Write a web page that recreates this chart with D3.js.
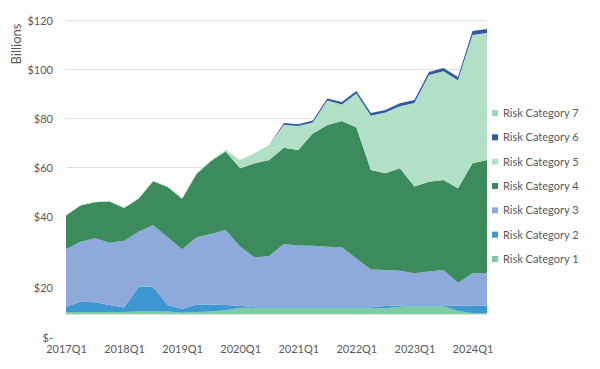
<!DOCTYPE html>
<html>
<head>
<meta charset="utf-8">
<script src="https://cdn.jsdelivr.net/npm/d3@7"></script>
<style>
  html, body { margin: 0; padding: 0; background: #fff; }
  text { font-family: Lato, "Liberation Sans", sans-serif; }
</style>
</head>
<body>
<script>
var width = 600
var height = 369

// quarters 2017Q1 .. 2024Q2
var quarters = []
for (var yr = 2017; yr <= 2024; yr++) {
    for (var q = 1; q <= 4; q++) {
        if (yr === 2024 && q > 2) break
        quarters.push(yr + 'Q' + q)
    }
}

var categories = ['Risk Category 1', 'Risk Category 2', 'Risk Category 3', 'Risk Category 4',
    'Risk Category 5', 'Risk Category 6', 'Risk Category 7']

// values in $ billions, per quarter
var cat1 = [0.8, 0.8, 0.8, 0.8, 0.8, 1.0, 1.0, 1.0, 0.5, 0.8, 1.0, 1.5, 2.6, 2.5, 2.5,
    2.5, 2.5, 2.5, 2.5, 2.5, 2.5, 2.3, 2.3, 3.0, 3.2, 3.2, 3.2, 1.2, 0.4, 0.4]
var cat2 = [2.2, 4.2, 4.0, 2.9, 1.9, 10.1, 10.1, 2.7, 1.5, 3.1, 2.9, 2.2, 0.8, 0.3, 0.3,
    0.3, 0.3, 0.3, 0.3, 0.3, 0.3, 0.5, 1.0, 0.5, 0.4, 0.4, 0.4, 2.2, 3.0, 3.1]
var cat3 = [23.4, 24.5, 26.1, 25.4, 27.2, 22.5, 25.2, 27.6, 24.4, 27.4, 28.8, 30.6, 24.1, 20.3, 20.9,
    25.8, 25.2, 25.1, 24.7, 24.4, 19.9, 15.4, 14.7, 14.2, 13.0, 13.7, 14.4, 9.4, 13.2, 13.1]
var cat4 = [13.8, 14.8, 14.7, 16.8, 13.4, 13.4, 17.9, 20.5, 20.6, 25.9, 29.8, 32.0, 32.0, 38.4, 39.2,
    39.3, 38.9, 45.8, 49.6, 51.6, 53.5, 40.6, 39.5, 41.8, 35.4, 36.7, 36.7, 38.5, 44.9, 46.3]
var cat5 = [0.2, 0.2, 0.2, 0.2, 0.2, 0.2, 0.2, 0.2, 0.2, 0.2, 0.4, 0.7, 3.4, 4.2, 6.1,
    9.3, 9.8, 4.5, 10.0, 6.7, 13.8, 22.1, 24.7, 25.3, 34.1, 43.6, 44.4, 44.1, 52.4, 51.8]
var cat6 = [0, 0, 0, 0, 0, 0, 0, 0, 0, 0, 0, 0, 0, 0, 0,
    0.8, 0.8, 0.8, 0.9, 1.0, 1.0, 1.1, 1.1, 1.2, 1.2, 1.2, 1.3, 1.3, 1.6, 1.6]
var cat7 = [0, 0, 0, 0, 0, 0, 0, 0, 0, 0, 0, 0, 0, 0, 0,
    0, 0, 0, 0, 0, 0, 0, 0, 0, 0, 0, 0, 0, 0, 0]

var yTicks = [0, 20, 40, 60, 80, 100, 120]
var xTickLabels = ['2017Q1', '2018Q1', '2019Q1', '2020Q1', '2021Q1', '2022Q1', '2023Q1', '2024Q1']

var seriesValues = [cat1, cat2, cat3, cat4, cat5, cat6, cat7]
var colors = ['#7fcba5', '#3d97d2', '#8eaadb', '#3b8b5c', '#b2e0c6', '#2f5c9e', '#9fd3bd']

var rows = quarters.map(function (qq, i) {
    var r = { quarter: qq }
    categories.forEach(function (c, j) {
        r[c] = seriesValues[j][i]
    })
    return r
})

var svg = d3.select('body').append('svg')
    .attr('width', width)
    .attr('height', height)

var x = d3.scalePoint().domain(quarters).range([66, 487])
var y = d3.scaleLinear().domain([0, 120]).range([314, 20])

var color = d3.scaleOrdinal().domain(categories).range(colors)

// gridlines
svg.append('g')
    .selectAll('line')
    .data(yTicks)
    .enter()
    .append('line')
    .attr('x1', 66)
    .attr('x2', 486)
    .attr('y1', function (d) { return y(d) + 0.5 })
    .attr('y2', function (d) { return y(d) + 0.5 })
    .attr('stroke', '#e0e0e0')
    .attr('stroke-width', 1)

var stack = d3.stack().keys(categories)
var layers = stack(rows)

var area = d3.area()
    .x(function (d) { return x(d.data.quarter) })
    .y0(function (d) { return y(d[0]) })
    .y1(function (d) { return y(d[1]) })

svg.append('g')
    .selectAll('path')
    .data(layers)
    .enter()
    .append('path')
    .attr('d', area)
    .attr('fill', function (d) { return color(d.key) })

// y axis labels (the two lowest sit a bit lower in the original)
var labelNudge = { 0: 23, 20: 22 }
var yAxis = svg.append('g')
    .attr('transform', 'translate(53,0)')
    .call(d3.axisLeft(y).tickValues(yTicks).tickSize(0).tickPadding(0)
        .tickFormat(function (d) { return d === 0 ? '$-' : '$' + d }))
yAxis.select('.domain').remove()
yAxis.selectAll('text')
    .attr('fill', '#595959')
    .style('font-size', '11px')
    .attr('dy', function (d) { return (labelNudge[d] || 0) + 4 })

// x axis labels
var xAxis = svg.append('g')
    .attr('transform', 'translate(0,345)')
    .call(d3.axisBottom(x).tickValues(xTickLabels).tickSize(0).tickPadding(0))
xAxis.select('.domain').remove()
xAxis.selectAll('text')
    .attr('fill', '#595959')
    .style('font-size', '11px')

svg.append('text')
    .attr('transform', 'translate(21,44) rotate(-90)')
    .attr('text-anchor', 'middle')
    .attr('fill', '#595959')
    .style('font-size', '13px')
    .text('Billions')

// legend, top item is the last category
var legendKeys = categories.slice().reverse()
var ly = d3.scalePoint().domain(legendKeys).range([113, 259])

var legend = svg.append('g')
    .selectAll('g')
    .data(legendKeys)
    .enter()
    .append('g')
    .attr('transform', function (d) { return 'translate(492,' + ly(d) + ')' })

legend.append('rect')
    .attr('x', 0)
    .attr('y', -3)
    .attr('width', 6)
    .attr('height', 6)
    .attr('fill', function (d) { return color(d) })

legend.append('text')
    .attr('x', 11)
    .attr('y', 4)
    .attr('fill', '#595959')
    .style('font-size', '11px')
    .text(function (d) { return d })
</script>
</body>
</html>
